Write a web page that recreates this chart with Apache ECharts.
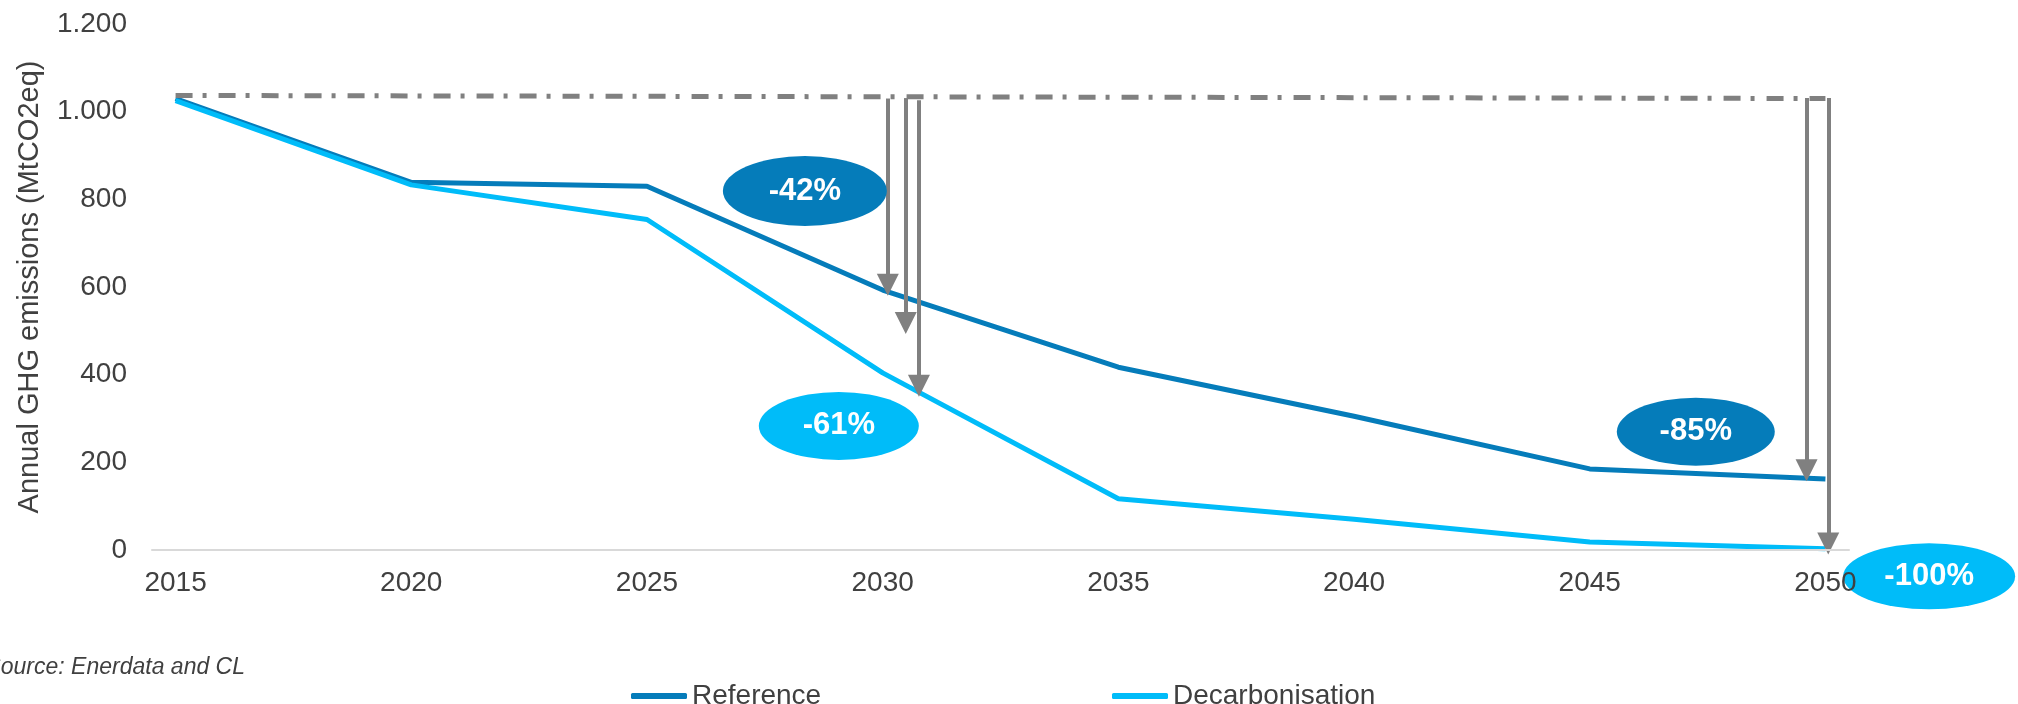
<!DOCTYPE html>
<html>
<head>
<meta charset="utf-8">
<script src="https://cdn.jsdelivr.net/npm/echarts@6/dist/echarts.min.js"></script>
<style>
html,body{margin:0;padding:0;background:#fff;}
#chart{width:2018px;height:704px;}
</style>
</head>
<body>
<div id="chart"></div>
<script>
// ---- data ----
const axisYears = [];
for (let y = 2015; y <= 2050; y++) axisYears.push(String(y));
const years = [2015, 2020, 2025, 2030, 2035, 2040, 2045, 2050];
const referenceValues = [1030, 839, 830, 593, 417, 305, 185, 162];
const decarbValues = [1025, 833, 754, 404, 117, 70, 18, 3];
const baselineYears = [2015, 2050];
const baselineValues = [1037, 1030];
const yTicks = [0, 200, 400, 600, 800, 1000, 1200];

// arrows from the 2015 level down to each scenario
const arrowYears = [2030.11, 2030.49, 2030.77, 2049.6, 2050.06];
const arrowFrom = [1030, 1031, 1026, 1031, 1031];
const arrowTo = [605, 518, 375, 182, 15];

// reduction bubbles
const bubbleLabels = ['-42%', '-61%', '-85%', '-100%'];
const bubbleYears = [2028.35, 2029.07, 2047.25, 2052.2];
const bubbleValues = [819, 283, 270, -60];
const bubbleScenario = ['ref', 'dec', 'ref', 'dec'];

// ---- styles ----
const DARK = '#057cba';
const LIGHT = '#00bcf9';
const GREY = '#808080';
const TXT = '#404040';
const FONT = '"Liberation Sans", Arial, sans-serif';

const chart = echarts.init(document.getElementById('chart'), null, {renderer: 'canvas'});

const bubbleSizes = [[164, 70], [160, 68], [158, 68], [172, 66]];

const option = {
  animation: false,
  backgroundColor: '#ffffff',
  textStyle: {fontFamily: FONT},
  grid: {left: 152, right: 169, top: 24, bottom: 154, containLabel: false},
  legend: [
    {
      data: ['Reference'], left: 626, top: 677,
      itemWidth: 56, itemHeight: 6, icon: 'roundRect', itemGap: 5,
      textStyle: {fontSize: 28, color: TXT, fontFamily: FONT}
    },
    {
      data: ['Decarbonisation'], left: 1107, top: 677,
      itemWidth: 56, itemHeight: 6, icon: 'roundRect', itemGap: 5,
      textStyle: {fontSize: 28, color: TXT, fontFamily: FONT}
    }
  ],
  graphic: [{
    type: 'text', right: 2018 - 245, top: 656,
    style: {text: 'Source: Enerdata and CL', font: 'italic 23px ' + FONT, fill: TXT}
  }],
  xAxis: [
    {
      type: 'category', data: axisYears, boundaryGap: true, z: 10,
      axisLine: {show: true, lineStyle: {color: '#d9d9d9', width: 2}},
      axisTick: {show: false},
      axisLabel: {interval: 4, fontSize: 28, color: TXT, margin: 19, fontFamily: FONT},
      splitLine: {show: false}
    },
    {
      type: 'value', min: 2014.5, max: 2050.5, show: false,
      splitLine: {show: false}
    }
  ],
  yAxis: {
    type: 'value', min: 0, max: 1200, interval: 200,
    name: 'Annual GHG emissions (MtCO2eq)', nameLocation: 'middle', nameGap: 108,
    nameTextStyle: {fontSize: 29, color: TXT, fontFamily: FONT},
    axisLine: {show: false}, axisTick: {show: false},
    splitLine: {show: false},
    axisLabel: {
      fontSize: 28, color: TXT, margin: 25, fontFamily: FONT,
      formatter: v => String(v).replace(/\B(?=(\d{3})+(?!\d))/g, '.')
    }
  },
  series: [
    {
      name: 'Reference', type: 'line', xAxisIndex: 1,
      data: years.map((y, i) => [y, referenceValues[i]]),
      symbol: 'none', color: DARK,
      lineStyle: {color: DARK, width: 5}, z: 3
    },
    {
      name: 'Decarbonisation', type: 'line', xAxisIndex: 1,
      data: years.map((y, i) => [y, decarbValues[i]]),
      symbol: 'none', color: LIGHT,
      lineStyle: {color: LIGHT, width: 5}, z: 4
    },
    {
      name: 'baseline', type: 'line', xAxisIndex: 1,
      data: baselineYears.map((y, i) => [y, baselineValues[i]]),
      symbol: 'none', silent: true,
      lineStyle: {color: GREY, width: 5, type: [17, 10, 4, 12], cap: 'butt'},
      z: 5,
      markLine: {
        silent: true, symbol: ['none', 'triangle'], symbolSize: [22, 22],
        label: {show: false},
        lineStyle: {color: GREY, width: 4, type: 'solid'},
        itemStyle: {color: GREY},
        emphasis: {disabled: true},
        data: arrowYears.map((x, i) => [{coord: [x, arrowFrom[i]]}, {coord: [x, arrowTo[i]]}])
      }
    },
    {
      name: 'bubbles', type: 'scatter', xAxisIndex: 1, clip: false, silent: true, z: 6,
      symbol: 'circle',
      data: bubbleLabels.map((t, i) => ({
        value: [bubbleYears[i], bubbleValues[i]],
        name: t,
        symbolSize: bubbleSizes[i],
        itemStyle: {color: bubbleScenario[i] === 'ref' ? DARK : LIGHT, opacity: 1}
      })),
      label: {
        show: true, position: 'inside', formatter: p => p.name,
        color: '#ffffff', fontSize: 31, fontWeight: 'bold', fontFamily: FONT
      }
    }
  ]
};
chart.setOption(option);
</script>
</body>
</html>
